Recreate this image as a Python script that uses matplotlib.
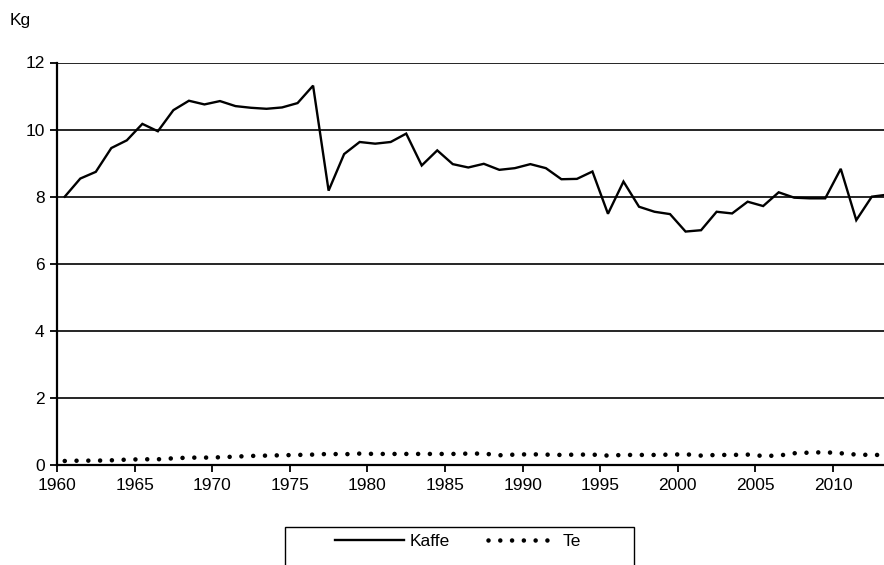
import matplotlib
matplotlib.use("Agg")
import matplotlib.pyplot as plt
from matplotlib.lines import Line2D
from matplotlib.patches import Rectangle
import numpy as np

plt.rcParams['font.family'] = ['Liberation Sans', 'DejaVu Sans']

years = list(range(1960, 2014))
kaffe = [8.00, 8.54, 8.74, 9.45, 9.68, 10.17, 9.95, 10.58, 10.86, 10.75,
         10.85, 10.70, 10.65, 10.62, 10.66, 10.79, 11.31, 8.18, 9.27, 9.63,
         9.58, 9.63, 9.88, 8.93, 9.38, 8.97, 8.87, 8.98, 8.80, 8.85,
         8.97, 8.85, 8.52, 8.53, 8.75, 7.49, 8.45, 7.70, 7.55, 7.48,
         6.96, 7.00, 7.55, 7.50, 7.85, 7.72, 8.13, 7.97, 7.95, 7.95,
         8.83, 7.30, 8.00, 8.06]
te = [0.12, 0.13, 0.13, 0.14, 0.16, 0.17, 0.17, 0.20, 0.22, 0.22,
      0.23, 0.25, 0.27, 0.28, 0.29, 0.30, 0.31, 0.33, 0.32, 0.34,
      0.33, 0.33, 0.33, 0.33, 0.33, 0.33, 0.34, 0.34, 0.29, 0.31,
      0.32, 0.31, 0.30, 0.31, 0.31, 0.28, 0.30, 0.30, 0.30, 0.31,
      0.32, 0.28, 0.30, 0.30, 0.31, 0.27, 0.28, 0.35, 0.37, 0.38,
      0.35, 0.31, 0.30, 0.30]
x_ticks = [1960, 1965, 1970, 1975, 1980, 1985, 1990, 1995, 2000, 2005, 2010]
y_ticks = [0, 2, 4, 6, 8, 10, 12]
series_names = ["Kaffe", "Te"]
unit_label = "Kg"

W, H = 884, 565
fig = plt.figure(figsize=(W / 100, H / 100), dpi=100)
left, right, top, bottom = 57, 884, 62.5, 465
ax = fig.add_axes([left / W, 1 - bottom / H, (right - left) / W, (bottom - top) / H])

DOT_LW = 3.3
DOT_STYLE = (0, (0.001, 2.57))

xpos = np.array(years) + 0.5
ax.plot(xpos, kaffe, color='black', lw=1.7, solid_joinstyle='miter')
ax.plot(xpos, te, color='black', lw=DOT_LW, linestyle=DOT_STYLE,
        dash_capstyle='round')

ax.set_xlim(1960, 1960 + (right - left) / 15.52)
ax.set_ylim(0, 12)
ax.set_xticks(x_ticks)
ax.set_yticks(y_ticks)
ax.tick_params(axis='both', direction='out', length=5, width=1.3, colors='black',
               labelsize=12.5, pad=4)
ax.yaxis.grid(True, color='black', lw=1.2)
ax.set_axisbelow(True)
for s in ['top', 'right']:
    ax.spines[s].set_visible(False)
for s in ['left', 'bottom']:
    ax.spines[s].set_linewidth(1.6)
    ax.spines[s].set_color('black')

fig.text(10 / W, 1 - 21 / H, unit_label, fontsize=12.5, ha='left', va='center')

# legend box (extends beyond the bottom of the figure as in the reference)
fig.patches.append(Rectangle((285 / W, -0.1), (634 - 285) / W, (0.1 + 1 - 526.7 / H),
                             transform=fig.transFigure, fill=False, edgecolor='black',
                             lw=1.0))
handles = [Line2D([], [], color='black', lw=1.7),
           Line2D([], [], color='black', lw=DOT_LW, linestyle=DOT_STYLE,
                  dash_capstyle='round')]
fig.legend(handles, series_names, loc='center', bbox_to_anchor=(458 / W, 1 - 541 / H),
           ncol=2, frameon=False, fontsize=12.5, handlelength=3.95, handletextpad=0.35,
           columnspacing=2.2)

fig.savefig("out.png", dpi=100)
